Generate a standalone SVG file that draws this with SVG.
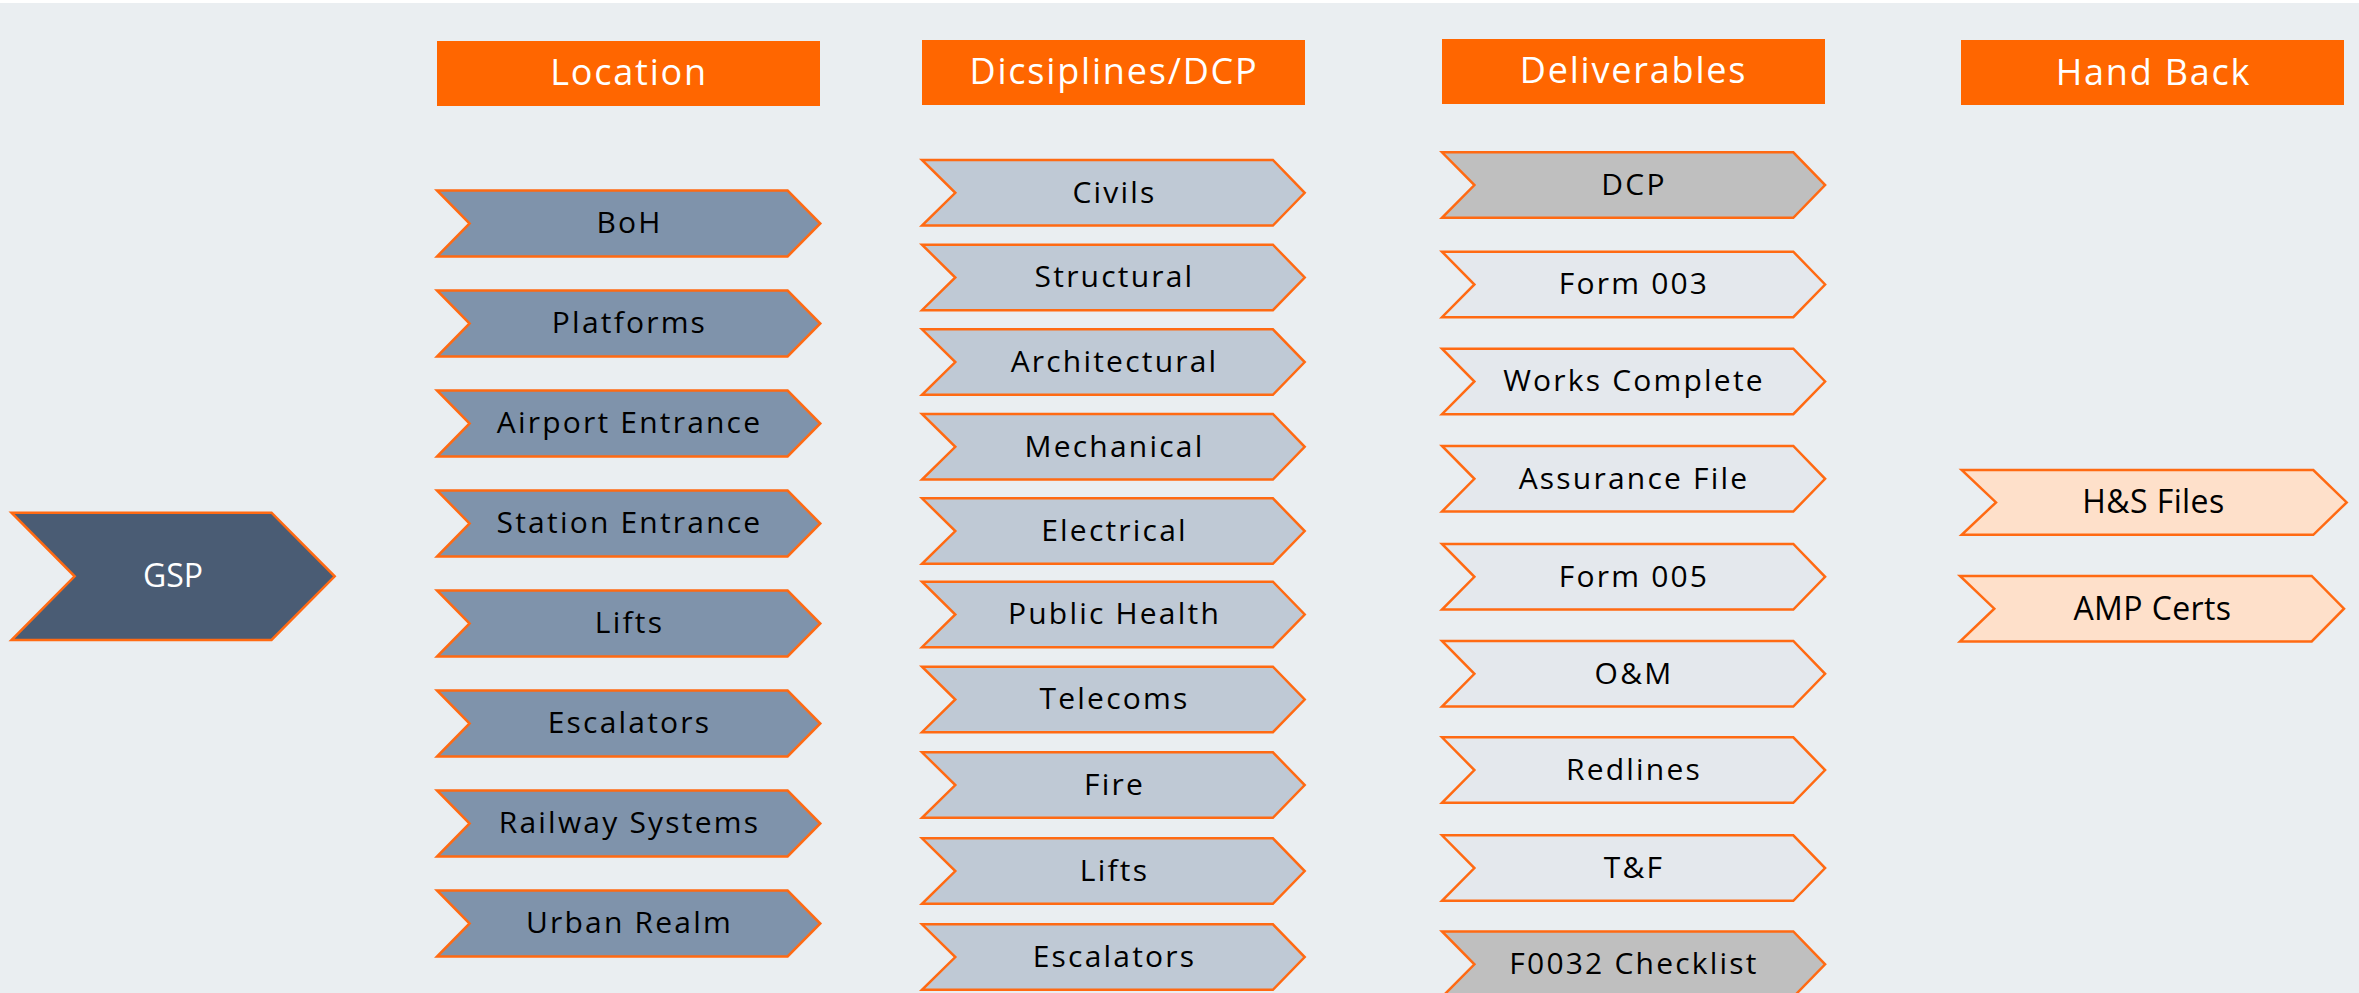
<svg xmlns="http://www.w3.org/2000/svg" width="2359" height="993" viewBox="0 0 2359 993">
<style>
.hdr{fill:#FF6600}
.ht{font-family:"Open Sans","Liberation Sans",sans-serif;font-size:36px;fill:#FFFFFF;text-anchor:middle;letter-spacing:1.8px}
.chev{stroke:#FF6A13;stroke-width:2.5;stroke-linejoin:miter}
.loc{fill:#7F93AB}
.dis{fill:#BFC9D5}
.del{fill:#E4E8ED}
.gry{fill:#BFBFBF}
.hb{fill:#FEE0CA}
.gsp{fill:#4A5C74}
.nt{font-family:"Open Sans","Liberation Sans",sans-serif;font-size:30px;fill:#000000;text-anchor:middle;letter-spacing:2.2px}
.hbt{font-family:"Open Sans","Liberation Sans",sans-serif;font-size:32px;fill:#000000;text-anchor:middle;letter-spacing:0.4px}
.gt{font-family:"Open Sans","Liberation Sans",sans-serif;font-size:32px;fill:#FFFFFF;text-anchor:middle}
</style>
<rect x="0" y="0" width="2359" height="993" fill="#FFFFFF"/>
<rect x="0" y="3" width="2359" height="990" fill="#EAEEF1"/>

<g id="connectors"></g>

<g id="hdr-location"><rect class="hdr" x="437" y="41" width="383" height="65"/><text class="ht" x="629" y="85">Location</text></g>
<g id="hdr-disciplines"><rect class="hdr" x="922" y="40" width="383" height="65"/><text class="ht" x="1114" y="84">Dicsiplines/DCP</text></g>
<g id="hdr-deliverables"><rect class="hdr" x="1442" y="39" width="383" height="65"/><text class="ht" x="1633.5" y="82.5">Deliverables</text></g>
<g id="hdr-handback"><rect class="hdr" x="1961" y="40" width="383" height="65"/><text class="ht" x="2153.5" y="84.5">Hand Back</text></g>

<g id="gsp"><polygon class="chev gsp" points="11.5,512.7 271.5,512.7 334.7,576.3 271.5,640 11.5,640 74.6,576.3"/><text class="gt" x="173" y="587">GSP</text></g>

<g id="loc-boh"><polygon class="chev loc" points="437,190.5 787.6,190.5 820.3,223.5 787.6,256.5 437,256.5 469.6,223.5"/><text class="nt" x="629.5" y="233">BoH</text></g>
<g id="loc-platforms"><polygon class="chev loc" points="437,290.5 787.6,290.5 820.3,323.5 787.6,356.5 437,356.5 469.6,323.5"/><text class="nt" x="629.5" y="333">Platforms</text></g>
<g id="loc-airport"><polygon class="chev loc" points="437,390.5 787.6,390.5 820.3,423.5 787.6,456.5 437,456.5 469.6,423.5"/><text class="nt" x="629.5" y="433">Airport Entrance</text></g>
<g id="loc-station"><polygon class="chev loc" points="437,490.5 787.6,490.5 820.3,523.5 787.6,556.5 437,556.5 469.6,523.5"/><text class="nt" x="629.5" y="533">Station Entrance</text></g>
<g id="loc-lifts"><polygon class="chev loc" points="437,590.5 787.6,590.5 820.3,623.5 787.6,656.5 437,656.5 469.6,623.5"/><text class="nt" x="629.5" y="633">Lifts</text></g>
<g id="loc-escalators"><polygon class="chev loc" points="437,690.5 787.6,690.5 820.3,723.5 787.6,756.5 437,756.5 469.6,723.5"/><text class="nt" x="629.5" y="733">Escalators</text></g>
<g id="loc-railway"><polygon class="chev loc" points="437,790.5 787.6,790.5 820.3,823.5 787.6,856.5 437,856.5 469.6,823.5"/><text class="nt" x="629.5" y="833">Railway Systems</text></g>
<g id="loc-urban"><polygon class="chev loc" points="437,890.5 787.6,890.5 820.3,923.5 787.6,956.5 437,956.5 469.6,923.5"/><text class="nt" x="629.5" y="933">Urban Realm</text></g>

<g id="dis-civils"><polygon class="chev dis" points="922,160 1272.9,160 1304.7,192.8 1272.9,225.5 922,225.5 955.3,192.8"/><text class="nt" x="1114.5" y="202.5">Civils</text></g>
<g id="dis-structural"><polygon class="chev dis" points="922,244.7 1272.9,244.7 1304.7,277.5 1272.9,310.2 922,310.2 955.3,277.5"/><text class="nt" x="1114.5" y="287.2">Structural</text></g>
<g id="dis-architectural"><polygon class="chev dis" points="922,329.3 1272.9,329.3 1304.7,362.1 1272.9,394.8 922,394.8 955.3,362.1"/><text class="nt" x="1114.5" y="371.8">Architectural</text></g>
<g id="dis-mechanical"><polygon class="chev dis" points="922,414 1272.9,414 1304.7,446.8 1272.9,479.5 922,479.5 955.3,446.8"/><text class="nt" x="1114.5" y="456.5">Mechanical</text></g>
<g id="dis-electrical"><polygon class="chev dis" points="922,498.3 1272.9,498.3 1304.7,531.1 1272.9,563.8 922,563.8 955.3,531.1"/><text class="nt" x="1114.5" y="540.8">Electrical</text></g>
<g id="dis-publichealth"><polygon class="chev dis" points="922,581.7 1272.9,581.7 1304.7,614.5 1272.9,647.2 922,647.2 955.3,614.5"/><text class="nt" x="1114.5" y="624.2">Public Health</text></g>
<g id="dis-telecoms"><polygon class="chev dis" points="922,666.7 1272.9,666.7 1304.7,699.5 1272.9,732.2 922,732.2 955.3,699.5"/><text class="nt" x="1114.5" y="709.2">Telecoms</text></g>
<g id="dis-fire"><polygon class="chev dis" points="922,752.3 1272.9,752.3 1304.7,785.1 1272.9,817.8 922,817.8 955.3,785.1"/><text class="nt" x="1114.5" y="794.8">Fire</text></g>
<g id="dis-lifts"><polygon class="chev dis" points="922,838.3 1272.9,838.3 1304.7,871.1 1272.9,903.8 922,903.8 955.3,871.1"/><text class="nt" x="1114.5" y="880.8">Lifts</text></g>
<g id="dis-escalators"><polygon class="chev dis" points="922,924.3 1272.9,924.3 1304.7,957.1 1272.9,989.8 922,989.8 955.3,957.1"/><text class="nt" x="1114.5" y="966.8">Escalators</text></g>

<g id="del-dcp"><polygon class="chev gry" points="1442,152.3 1793.3,152.3 1825.1,185.1 1793.3,217.8 1442,217.8 1474.4,185.1"/><text class="nt" x="1634" y="194.8">DCP</text></g>
<g id="del-form003"><polygon class="chev del" points="1442,251.7 1793.3,251.7 1825.1,284.5 1793.3,317.2 1442,317.2 1474.4,284.5"/><text class="nt" x="1634" y="294.2">Form 003</text></g>
<g id="del-workscomplete"><polygon class="chev del" points="1442,348.7 1793.3,348.7 1825.1,381.5 1793.3,414.2 1442,414.2 1474.4,381.5"/><text class="nt" x="1634" y="391.2">Works Complete</text></g>
<g id="del-assurance"><polygon class="chev del" points="1442,446 1793.3,446 1825.1,478.8 1793.3,511.5 1442,511.5 1474.4,478.8"/><text class="nt" x="1634" y="488.5">Assurance File</text></g>
<g id="del-form005"><polygon class="chev del" points="1442,544 1793.3,544 1825.1,576.8 1793.3,609.5 1442,609.5 1474.4,576.8"/><text class="nt" x="1634" y="586.5">Form 005</text></g>
<g id="del-om"><polygon class="chev del" points="1442,641 1793.3,641 1825.1,673.8 1793.3,706.5 1442,706.5 1474.4,673.8"/><text class="nt" x="1634" y="683.5">O&amp;M</text></g>
<g id="del-redlines"><polygon class="chev del" points="1442,737.3 1793.3,737.3 1825.1,770.1 1793.3,802.8 1442,802.8 1474.4,770.1"/><text class="nt" x="1634" y="779.8">Redlines</text></g>
<g id="del-tf"><polygon class="chev del" points="1442,835.3 1793.3,835.3 1825.1,868.1 1793.3,900.8 1442,900.8 1474.4,868.1"/><text class="nt" x="1634" y="877.8">T&amp;F</text></g>
<g id="del-f0032"><polygon class="chev gry" points="1442,931.5 1793.3,931.5 1825.1,964.3 1793.3,997 1442,997 1474.4,964.3"/><text class="nt" x="1634" y="974">F0032 Checklist</text></g>

<g id="hb-hsfiles"><polygon class="chev hb" points="1961.7,470 2313.3,470 2346.7,502.4 2313.3,534.8 1961.7,534.8 1996,502.4"/><text class="hbt" x="2153.5" y="513">H&amp;S Files</text></g>
<g id="hb-ampcerts"><polygon class="chev hb" points="1960,575.9 2311.7,575.9 2344,608.7 2311.7,641.5 1960,641.5 1994.3,608.7"/><text class="hbt" x="2152.5" y="620">AMP Certs</text></g>
</svg>
